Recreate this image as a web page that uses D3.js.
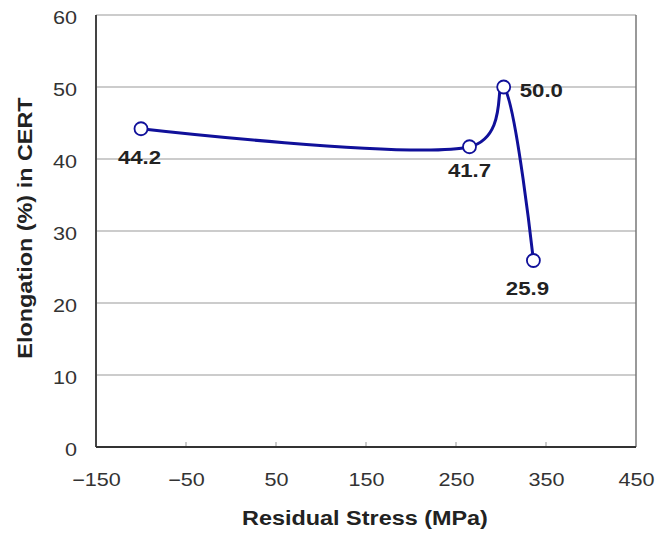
<!DOCTYPE html>
<html>
<head>
<meta charset="utf-8">
<script src="https://cdn.jsdelivr.net/npm/d3@7"></script>
<style>
	body{margin:0;background:#fff;}
	.tick text{font-family:Arial,"Liberation Sans",sans-serif;font-size:18px;fill:#333;}
	.axisTitle{font-family:Arial,"Liberation Sans",sans-serif;font-size:19.5px;font-weight:bold;fill:#222;}
	.ptLabel{font-family:Arial,"Liberation Sans",sans-serif;font-size:18.5px;font-weight:bold;fill:#222;}
</style>
</head>
<body>
<script>
//data
var stress=[-100,265,303,336]; //residual stress (MPa)
var elong=[44.2,41.7,50.0,25.9]; //elongation (%)
var labels=["44.2","41.7","50.0","25.9"];
var xTicks=[-150,-50,50,150,250,350,450];
var yTicks=[0,10,20,30,40,50,60];

(function(){
	var width=658,height=537;
	var left=96,right=636,top=15,bottom=447;

	var svg=d3.select("body").append("svg")
		.attr("width",width)
		.attr("height",height);

	var x=d3.scaleLinear().domain([-150,450]).range([left,right]);
	var y=d3.scaleLinear().domain([0,60]).range([bottom,top]);

	//grid lines
	svg.selectAll(".grid")
		.data(yTicks.slice(1))
		.enter().append("line")
		.attr("x1",left).attr("x2",right)
		.attr("y1",function(d){return y(d);})
		.attr("y2",function(d){return y(d);})
		.attr("stroke","#999").attr("stroke-width",1.2);

	//right border
	svg.append("line")
		.attr("x1",right).attr("x2",right).attr("y1",top).attr("y2",bottom)
		.attr("stroke","#777").attr("stroke-width",1.5);

	//x axis
	var xAxis=d3.axisBottom(x)
		.tickValues(xTicks)
		.tickSize(0)
		.tickPadding(26)
		.tickFormat(function(d){return d<0?"\u2212"+Math.abs(d):d;});
	var gx=svg.append("g")
		.attr("transform","translate(0,"+bottom+")")
		.call(xAxis);
	gx.select(".domain").remove();

	//inner tick marks
	svg.selectAll(".xtick")
		.data(xTicks.slice(1,-1))
		.enter().append("line")
		.attr("x1",function(d){return x(d);})
		.attr("x2",function(d){return x(d);})
		.attr("y1",bottom).attr("y2",bottom-5)
		.attr("stroke","#999").attr("stroke-width",1);

	//y axis
	var yAxis=d3.axisLeft(y)
		.tickValues(yTicks)
		.tickSize(0)
		.tickPadding(19);
	var gy=svg.append("g")
		.attr("transform","translate("+left+",0)")
		.call(yAxis);
	gy.select(".domain").remove();
	gy.selectAll(".tick text").attr("dy","0.45em");

	//left and bottom axis lines
	svg.append("line")
		.attr("x1",left).attr("x2",left).attr("y1",top).attr("y2",bottom)
		.attr("stroke","#444").attr("stroke-width",2);
	svg.append("line")
		.attr("x1",left).attr("x2",right).attr("y1",bottom).attr("y2",bottom)
		.attr("stroke","#333").attr("stroke-width",2);

	//smoothed line
	var pts=stress.map(function(d,i){return [d,elong[i]];});
	var line=d3.line()
		.x(function(d){return x(d[0]);})
		.y(function(d){return y(d[1]);})
		.curve(d3.curveCatmullRom.alpha(0.2));
	svg.append("path")
		.datum(pts)
		.attr("d",line)
		.attr("fill","none")
		.attr("stroke","#10109a")
		.attr("stroke-width",3);

	//markers
	svg.selectAll(".pt")
		.data(pts)
		.enter().append("circle")
		.attr("cx",function(d){return x(d[0]);})
		.attr("cy",function(d){return y(d[1]);})
		.attr("r",6.5)
		.attr("fill","#fff")
		.attr("stroke","#10109a")
		.attr("stroke-width",1.8);

	//point labels
	var offs=[[-1.5,35,"middle"],[0,30,"middle"],[16,10,"start"],[-6,34.5,"middle"]];
	svg.selectAll(".ptLabel")
		.data(pts)
		.enter().append("text")
		.attr("class","ptLabel")
		.attr("x",function(d,i){return x(d[0])+offs[i][0];})
		.attr("y",function(d,i){return y(d[1])+offs[i][1];})
		.attr("text-anchor",function(d,i){return offs[i][2];})
		.text(function(d,i){return labels[i];});

	//axis titles
	svg.append("text")
		.attr("class","axisTitle")
		.attr("x",365).attr("y",525)
		.attr("text-anchor","middle")
		.text("Residual Stress (MPa)");
	svg.append("text")
		.attr("class","axisTitle")
		.attr("transform","translate(32,228) rotate(-90)")
		.attr("text-anchor","middle")
		.text("Elongation (%) in CERT");

	//the original font is wider than Arial, so stretch every text along its baseline
	svg.selectAll("text").each(function(){
		var len=this.getComputedTextLength();
		d3.select(this)
			.attr("textLength",len*1.2)
			.attr("lengthAdjust","spacingAndGlyphs");
	});
})();
</script>
</body>
</html>
